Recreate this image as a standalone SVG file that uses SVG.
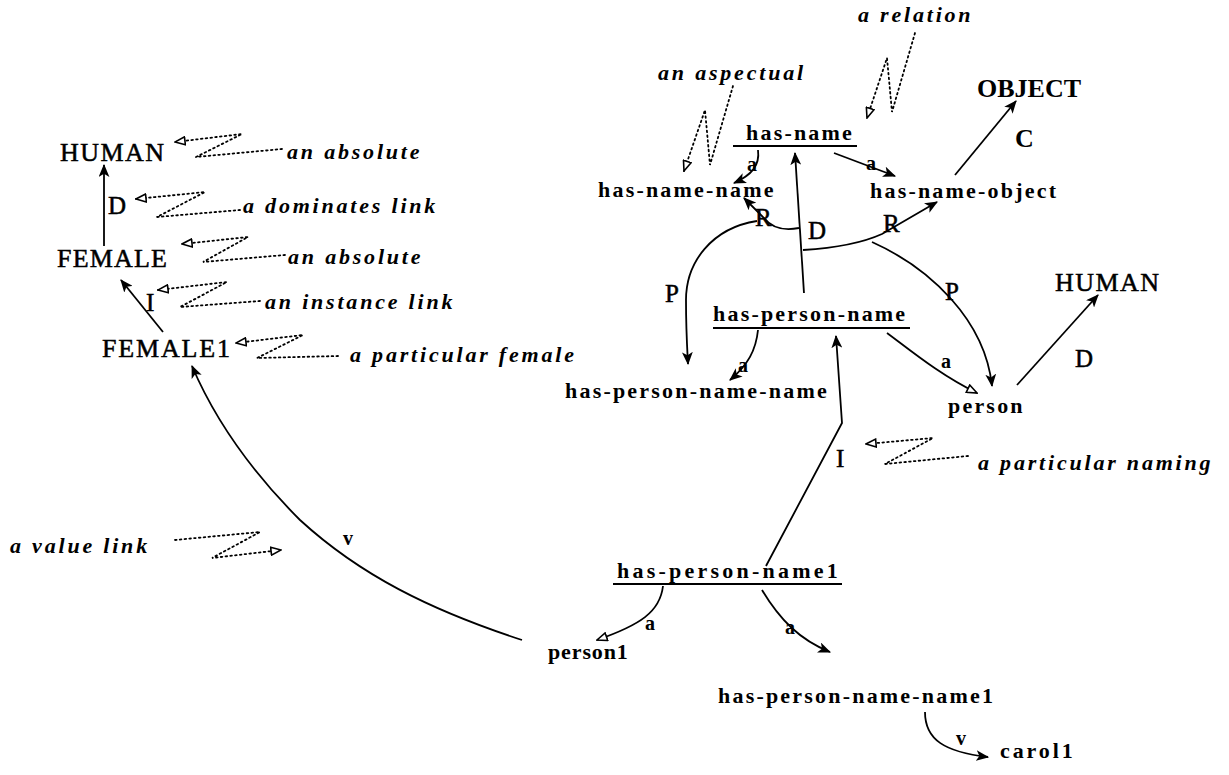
<svg xmlns="http://www.w3.org/2000/svg" width="1229" height="775" viewBox="0 0 1229 775">
<style>
  .n{font-family:"Liberation Serif",serif;font-size:26px;fill:#000;stroke:#000;stroke-width:0.5}
  .nb{font-family:"Liberation Serif",serif;font-size:26px;font-weight:bold;fill:#000}
  .b{font-family:"Liberation Serif",serif;font-size:22px;font-weight:bold;letter-spacing:2.2px;fill:#000}
  .ann{font-family:"Liberation Serif",serif;font-size:22px;font-weight:bold;font-style:italic;letter-spacing:2.8px;fill:#000}
  .lab{font-family:"Liberation Serif",serif;font-size:25px;fill:#000;stroke:#000;stroke-width:0.5}
  .sm{font-family:"Liberation Serif",serif;font-size:20px;font-weight:bold;fill:#000}
  .e{fill:none;stroke:#000;stroke-width:1.8}
  .ea{marker-end:url(#ah)}
  .eo{marker-end:url(#ao)}
  .dot{fill:none;stroke:#000;stroke-width:1.8;stroke-dasharray:1.6 3.2;stroke-linecap:round;marker-end:url(#ad)}
  .ul{stroke:#000;stroke-width:2}
</style>
<defs>
  <marker id="ah" viewBox="0 0 12 10" refX="11" refY="5" markerWidth="13" markerHeight="11" markerUnits="userSpaceOnUse" orient="auto">
    <path d="M0,0 L12,5 L0,10 L3,5 z" fill="#000"/>
  </marker>
  <marker id="ao" viewBox="0 0 12 10" refX="11" refY="5" markerWidth="12" markerHeight="10" markerUnits="userSpaceOnUse" orient="auto">
    <path d="M1,1 L11,5 L1,9 z" fill="#fff" stroke="#000" stroke-width="1.6"/>
  </marker>
  <marker id="ad" viewBox="0 0 12 10" refX="11" refY="5" markerWidth="12" markerHeight="10" markerUnits="userSpaceOnUse" orient="auto">
    <path d="M1,1 L11,5 L1,9 z" fill="#fff" stroke="#000" stroke-width="1.6"/>
  </marker>
</defs>

<!-- left hierarchy -->
<g id="human-left"><text class="n" x="60" y="161" textLength="104">HUMAN</text></g>
<g id="female"><text class="n" x="57" y="267" textLength="110">FEMALE</text></g>
<g id="female1"><text class="n" x="102" y="357" textLength="128">FEMALE1</text></g>

<!-- right network -->
<g id="has-name">
  <text class="b" x="746" y="140">has-name</text>
  <line class="ul" x1="733" y1="146" x2="857" y2="146"/>
</g>
<g id="has-name-name"><text class="b" x="598" y="197">has-name-name</text></g>
<g id="has-name-object"><text class="b" x="870" y="198">has-name-object</text></g>
<g id="object"><text class="nb" x="977" y="97">OBJECT</text></g>
<g id="has-person-name">
  <text class="b" x="713" y="321">has-person-name</text>
  <line class="ul" x1="713" y1="328" x2="910" y2="328"/>
</g>
<g id="has-person-name-name"><text class="b" x="565" y="398">has-person-name-name</text></g>
<g id="person"><text class="b" x="948" y="413">person</text></g>
<g id="human-right"><text class="n" x="1055" y="291" textLength="104">HUMAN</text></g>
<g id="has-person-name1">
  <text class="b" x="617" y="578" textLength="223">has-person-name1</text>
  <line class="ul" x1="613" y1="584" x2="842" y2="584"/>
</g>
<g id="person1"><text class="b" x="548" y="659" textLength="82">person1</text></g>
<g id="has-person-name-name1"><text class="b" x="718" y="703">has-person-name-name1</text></g>
<g id="carol1"><text class="b" x="1000" y="758" textLength="75">carol1</text></g>

<!-- connectors -->
<g id="connectors">
  <line class="e ea" x1="104" y1="246" x2="104" y2="165"/>
  <line class="e ea" x1="163" y1="332" x2="121" y2="280"/>
  <path class="e ea" d="M522,640 C430,610 360,575 300,520 C250,470 215,420 192,366"/>

  <path class="e ea" d="M758,150 C760,165 752,175 734,183"/>
  <path class="e ea" d="M834,153 L895,176"/>
  <line class="e ea" x1="955" y1="175" x2="1016" y2="101"/>
  <line class="e ea" x1="804" y1="293" x2="795" y2="153"/>
  <path class="e ea" d="M799,228 C784,231 772,228 764,218 L744,198"/>
  <path class="e ea" d="M757,221 C712,228 686,262 686,300 C686,330 687,345 688,364"/>
  <path class="e ea" d="M803,250 C835,248 860,244 882,234 L937,202"/>
  <path class="e ea" d="M872,242 C930,268 985,320 992,386"/>

  <path class="e ea" d="M758,330 C756,350 748,365 730,380"/>
  <path class="e eo" d="M887,333 C910,350 940,375 977,393"/>
  <line class="e ea" x1="1017" y1="385" x2="1098" y2="295"/>
  <polyline class="e ea" points="766,566 842,423 836,336"/>

  <path class="e eo" d="M663,586 C660,612 640,625 597,640"/>
  <path class="e ea" d="M762,590 C780,620 800,640 830,652"/>
  <path class="e ea" d="M925,712 C925,740 945,752 988,757"/>
</g>

<!-- link labels -->
<g id="link-labels">
  <text class="lab" x="108" y="214">D</text>
  <text class="lab" x="146" y="311">I</text>
  <text class="sm" x="747" y="171">a</text>
  <text class="sm" x="866" y="170">a</text>
  <text class="nb" x="1015" y="147">C</text>
  <text class="lab" x="808" y="239">D</text>
  <text class="lab" x="755" y="226">R</text>
  <text class="lab" x="883" y="232">R</text>
  <text class="lab" x="665" y="302">P</text>
  <text class="lab" x="945" y="300">P</text>
  <text class="sm" x="738" y="372">a</text>
  <text class="sm" x="941" y="368">a</text>
  <text class="lab" x="1075" y="367">D</text>
  <text class="lab" x="836" y="467">I</text>
  <text class="sm" x="645" y="630">a</text>
  <text class="sm" x="785" y="634">a</text>
  <text class="sm" x="343" y="545">v</text>
  <text class="sm" x="956" y="745">v</text>
</g>

<!-- explanatory notes -->
<g id="notes">
  <text class="ann" x="287" y="159">an absolute</text>
  <path class="dot" d="M282,149 L196,157 L242,134 L175,142"/>
  <text class="ann" x="243" y="213">a dominates link</text>
  <path class="dot" d="M240,210 L157,217 L205,192 L136,199"/>
  <text class="ann" x="288" y="264">an absolute</text>
  <path class="dot" d="M285,255 L203,262 L248,237 L182,244"/>
  <text class="ann" x="265" y="309">an instance link</text>
  <path class="dot" d="M260,301 L180,307 L227,282 L158,290"/>
  <text class="ann" x="350" y="362">a particular female</text>
  <path class="dot" d="M338,356 L257,358 L303,335 L236,343"/>
  <text class="ann" x="658" y="80">an aspectual</text>
  <path class="dot" d="M733,86 L710,165 L705,110 L684,171"/>
  <text class="ann" x="858" y="22">a relation</text>
  <path class="dot" d="M915,33 L892,112 L887,58 L867,118"/>
  <text class="ann" x="978" y="470">a particular naming</text>
  <path class="dot" d="M968,456 L885,464 L933,438 L866,444"/>
  <text class="ann" x="10" y="553">a value link</text>
  <path class="dot" d="M175,540 L260,532 L212,558 L281,550"/>
</g>
</svg>
